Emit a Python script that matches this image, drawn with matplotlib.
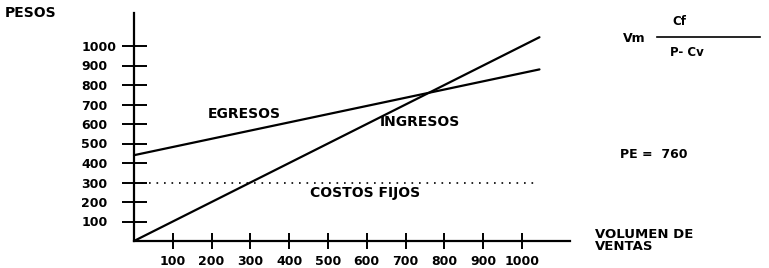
import matplotlib
matplotlib.use("Agg")
import matplotlib.pyplot as plt

plt.rcParams['font.family'] = ['DejaVu Sans']
plt.rcParams['font.weight'] = 'bold'

# ---- data ----
volumen = [0, 1045]
ingresos = [0, 1045]
egresos = [440, 880]
costos_fijos = [300, 300]
x_ticks = [100, 200, 300, 400, 500, 600, 700, 800, 900, 1000]
y_ticks = [100, 200, 300, 400, 500, 600, 700, 800, 900, 1000]
pe_value = 760

W, H = 769, 268
DPI = 100
fig = plt.figure(figsize=(W / DPI, H / DPI), dpi=DPI)
ax = fig.add_axes([0, 0, 1, 1])

# pixel mapping: x 0->134px, 1000->522px ; y 0->241px(from top), 1000->46px
x0, xs = 134.0, 0.388
y0, ys = 241.0, 0.195
ax.set_xlim(-x0 / xs, (W - x0) / xs)
ax.set_ylim(-(H - y0) / ys, y0 / ys)

for s in ['top', 'right']:
    ax.spines[s].set_visible(False)
ax.spines['left'].set_position(('data', 0))
ax.spines['bottom'].set_position(('data', 0))
ax.spines['left'].set_bounds(0, 1170)
ax.spines['bottom'].set_bounds(0, 1124)
ax.spines['left'].set_linewidth(1.6)
ax.spines['bottom'].set_linewidth(1.6)

ax.set_xticks(x_ticks)
ax.set_yticks(y_ticks)
ax.set_xticklabels([str(v) for v in x_ticks])
ax.set_yticklabels([str(v) for v in y_ticks])
ax.tick_params(axis='y', direction='inout', length=18, width=1.4,
               pad=29, labelsize=9)
ax.tick_params(axis='x', direction='inout', length=12, width=1.4,
               pad=4, labelsize=9)
plt.setp(ax.get_yticklabels(), ha='left', fontweight='bold')
plt.setp(ax.get_xticklabels(), fontweight='bold')

# lines
ax.plot(volumen, ingresos, color='black', lw=1.6, solid_capstyle='round')
ax.plot(volumen, egresos, color='black', lw=1.6, solid_capstyle='round')
ax.plot(volumen, costos_fijos, color='black', lw=1.2,
        linestyle=(0, (1, 3.5)))

# labels in data coords
ax.text(191, 651, 'EGRESOS', fontsize=10, fontweight='bold', va='center', ha='left')
ax.text(634, 610, 'INGRESOS', fontsize=10, fontweight='bold', va='center', ha='left')
ax.text(454, 246, 'COSTOS FIJOS', fontsize=10, fontweight='bold', va='center', ha='left')

# figure-pixel annotations
def fx(px):
    return px / W

def fy(py):
    return 1 - py / H

tr = ax.transAxes
ax.text(fx(5), fy(13), 'PESOS', transform=tr, fontsize=10, fontweight='bold',
        va='center', ha='left')
ax.text(fx(595), fy(240), 'VOLUMEN DE\nVENTAS', transform=tr, fontsize=9.5,
        fontweight='bold', va='center', ha='left', linespacing=0.9)
ax.text(fx(620), fy(155), f'PE =  {pe_value}', transform=tr, fontsize=9,
        fontweight='bold', va='center', ha='left')
ax.text(fx(623), fy(38), 'Vm', transform=tr, fontsize=9, fontweight='bold',
        va='center', ha='left')
ax.plot([fx(657), fx(760)], [fy(37), fy(37)], transform=tr, color='black', lw=1.2)
ax.text(fx(672), fy(21), 'Cf', transform=tr, fontsize=8.5, fontweight='bold',
        va='center', ha='left')
ax.text(fx(670), fy(53), 'P- Cv', transform=tr, fontsize=8.5, fontweight='bold',
        va='center', ha='left')

fig.savefig('out.png', dpi=DPI)
